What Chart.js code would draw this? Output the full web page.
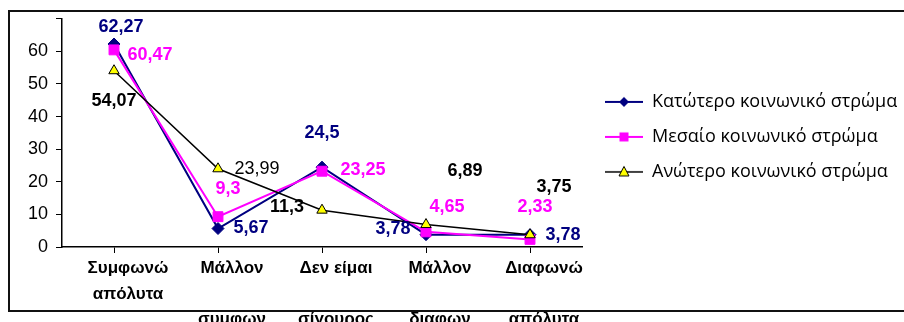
<!DOCTYPE html>
<html><head><meta charset="utf-8">
<script src="https://cdn.jsdelivr.net/npm/chart.js@4/dist/chart.umd.min.js"></script>
<style>html,body{margin:0;padding:0;background:#fff;overflow:hidden}canvas{display:block}</style>
</head><body>
<canvas id="c" width="904" height="322"></canvas>
<script>
// ---- data ----
const categories = [["Συμφωνώ","απόλυτα"],["Μάλλον","","συμφων"],["Δεν είμαι","","σίγουρος"],["Μάλλον","","διαφων"],["Διαφωνώ","","απόλυτα"]];
const seriesNames = ["Κατώτερο κοινωνικό στρώμα","Μεσαίο κοινωνικό στρώμα","Ανώτερο κοινωνικό στρώμα"];
const lowerValues = [62.27, 5.67, 24.5, 3.78, 3.78];
const middleValues = [60.47, 9.3, 23.25, 4.65, 2.33];
const upperValues = [54.07, 23.99, 11.3, 6.89, 3.75];
const yMin = 0, yMax = 70, yStep = 10;
const hiddenYTickLabels = [70];

// ---- label placement (styles, not data) ----
const lowerLabelOffsets = [[7,-17],[33,0],[0,-34],[-33,-6],[33,0]];
const middleLabelOffsets = [[36,5],[10,-28],[41,-1],[21,-25],[5,-32]];
const upperLabelOffsets = [[0,30],[39,0],[-35,-3],[39,-54],[24,-48]];
const upperLabelBold = [true,false,true,true,true];

const NAVY = '#000080', MAGENTA = '#FF00FF', BLACK = '#000000', YELLOW = '#FFFF00';
const FONT = '"Liberation Sans", Arial, sans-serif';

function legendImage(kind, color) {
  const c = document.createElement('canvas');
  c.width = 44; c.height = 14;
  const g = c.getContext('2d');
  g.strokeStyle = color; g.lineWidth = kind === 'tri' ? 1.5 : 2;
  g.beginPath(); g.moveTo(6, 7); g.lineTo(44, 7); g.stroke();
  const cx = 25, cy = 7;
  if (kind === 'diamond') {
    g.fillStyle = NAVY; g.beginPath();
    g.moveTo(cx, cy-5); g.lineTo(cx+5, cy); g.lineTo(cx, cy+5); g.lineTo(cx-5, cy); g.closePath(); g.fill();
  } else if (kind === 'square') {
    g.fillStyle = MAGENTA; g.fillRect(cx-4.5, cy-4.5, 9, 9);
  } else {
    g.fillStyle = YELLOW; g.strokeStyle = BLACK; g.lineWidth = 1;
    g.beginPath(); g.moveTo(cx, cy-5.5); g.lineTo(cx+5, cy+4); g.lineTo(cx-5, cy+4); g.closePath(); g.fill(); g.stroke();
  }
  return c;
}
const legendImages = [legendImage('diamond', NAVY), legendImage('square', MAGENTA), legendImage('tri', BLACK)];

const fmt = v => String(v).replace('.', ',');

const dataLabelPlugin = {
  id: 'dataLabels',
  afterDatasetsDraw(chart) {
    const ctx = chart.ctx;
    const offs = [lowerLabelOffsets, middleLabelOffsets, upperLabelOffsets];
    const colors = [NAVY, MAGENTA, BLACK];
    ctx.save();
    ctx.textAlign = 'center'; ctx.textBaseline = 'middle';
    chart.data.datasets.forEach((ds, di) => {
      const meta = chart.getDatasetMeta(di);
      meta.data.forEach((pt, i) => {
        const bold = di === 2 ? upperLabelBold[i] : true;
        ctx.font = (bold ? 'bold ' : '') + '18px ' + FONT;
        ctx.fillStyle = colors[di];
        ctx.fillText(fmt(ds.data[i]), pt.x + offs[di][i][0], pt.y + offs[di][i][1]);
      });
    });
    ctx.restore();
  }
};

const framePlugin = {
  id: 'frame',
  afterDraw(chart) {
    const ctx = chart.ctx;
    ctx.save();
    ctx.strokeStyle = '#111'; ctx.lineWidth = 2;
    ctx.strokeRect(9, 11, 910, 300);
    ctx.restore();
  }
};

new Chart(document.getElementById('c'), {
  type: 'line',
  data: {
    labels: categories,
    datasets: [
      { label: seriesNames[0], data: lowerValues, borderColor: NAVY, backgroundColor: NAVY, borderWidth: 2,
        pointStyle: 'rectRot', pointRadius: 6, pointBackgroundColor: NAVY, pointBorderColor: NAVY, pointBorderWidth: 1, order: 3 },
      { label: seriesNames[1], data: middleValues, borderColor: MAGENTA, backgroundColor: MAGENTA, borderWidth: 2,
        pointStyle: 'rect', pointRadius: 7, pointBackgroundColor: MAGENTA, pointBorderColor: MAGENTA, pointBorderWidth: 1, order: 2 },
      { label: seriesNames[2], data: upperValues, borderColor: BLACK, backgroundColor: YELLOW, borderWidth: 1.5,
        pointStyle: 'triangle', pointRadius: 6, pointBackgroundColor: YELLOW, pointBorderColor: BLACK, pointBorderWidth: 1, order: 1 }
    ]
  },
  options: {
    responsive: false,
    animation: false,
    devicePixelRatio: 1,
    layout: { padding: { top: 18, left: 0, right: 0, bottom: 0 } },
    elements: { line: { tension: 0 } },
    plugins: {
      tooltip: { enabled: false },
      legend: {
        position: 'right',
        fullSize: false,
        maxWidth: 322,
        title: { display: true, text: '', padding: 0, font: { size: 8, lineHeight: 1 } },
        labels: {
          usePointStyle: true,
          pointStyleWidth: 44,
          boxHeight: 14,
          padding: 17,
          color: '#000',
          font: { family: '"Open Sans", "Noto Sans", sans-serif', size: 18 },
          sort: (a, b) => a.datasetIndex - b.datasetIndex,
          generateLabels(chart) {
            const items = Chart.defaults.plugins.legend.labels.generateLabels(chart);
            items.forEach(it => { it.pointStyle = legendImages[it.datasetIndex]; it.lineWidth = 0; });
            return items;
          }
        }
      }
    },
    scales: {
      x: {
        offset: true,
        afterFit(s) { s.height = 75; },
        border: { display: true, color: '#000', width: 1.5 },
        grid: { display: true, offset: false, drawOnChartArea: false, drawTicks: true, tickLength: 6, color: '#000', lineWidth: 1 },
        ticks: { autoSkip: false, maxRotation: 0, minRotation: 0, padding: 3, labelOffset: 14, color: '#000',
          font: { family: FONT, size: 17, weight: 'bold', lineHeight: 1.5 } }
      },
      y: {
        min: yMin, max: yMax,
        afterFit(s) { s.width = 62; },
        border: { display: true, color: '#000', width: 1.5 },
        grid: { display: true, drawOnChartArea: false, drawTicks: true, tickLength: 6, color: '#000', lineWidth: 1 },
        ticks: { stepSize: yStep, padding: 8, color: '#000', font: { family: FONT, size: 18 },
          callback: v => hiddenYTickLabels.includes(v) ? '' : String(v) }
      }
    }
  },
  plugins: [dataLabelPlugin, framePlugin]
});
</script>
</body></html>
